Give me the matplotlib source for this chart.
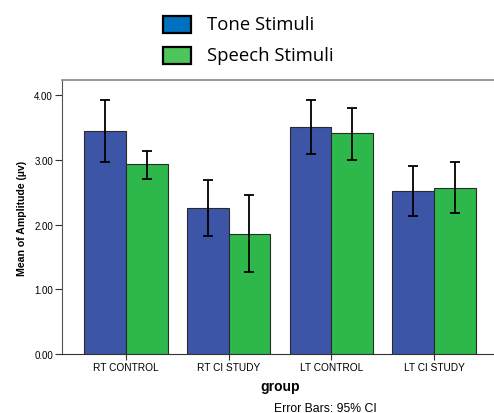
import matplotlib
matplotlib.use("Agg")
import matplotlib.pyplot as plt
import numpy as np
from matplotlib.patches import Rectangle

groups = ["RT CONTROL", "RT CI STUDY", "LT CONTROL", "LT CI STUDY"]
tone_mean = [3.45, 2.25, 3.51, 2.52]
tone_lo = [2.97, 1.82, 3.09, 2.13]
tone_hi = [3.93, 2.68, 3.93, 2.91]
speech_mean = [2.93, 1.86, 3.41, 2.57]
speech_lo = [2.71, 1.27, 3.00, 2.17]
speech_hi = [3.14, 2.46, 3.80, 2.96]
yticks = [0.0, 1.0, 2.0, 3.0, 4.0]
series_names = ["Tone Stimuli", "Speech Stimuli"]

W, H = 494, 414
fig = plt.figure(figsize=(W / 100, H / 100), dpi=100)

left_px, right_px, top_px, bot_px = 62, 498, 81, 355
ax = fig.add_axes([left_px / W, 1 - bot_px / H, (right_px - left_px) / W, (bot_px - top_px) / H])

x = np.arange(len(groups))
bw = 0.406
blue = "#3D55A7"
green = "#2EB84B"

tm = np.array(tone_mean); sm = np.array(speech_mean)
terr = [tm - np.array(tone_lo), np.array(tone_hi) - tm]
serr = [sm - np.array(speech_lo), np.array(speech_hi) - sm]

ax.bar(x - bw / 2, tm, bw, color=blue, edgecolor="#2a2a2a", linewidth=0.8, zorder=2)
ax.bar(x + bw / 2, sm, bw, color=green, edgecolor="#2a2a2a", linewidth=0.8, zorder=2)
ax.errorbar(x - bw / 2, tm, yerr=terr, fmt="none", ecolor="black", elinewidth=1.3, capsize=3.8, capthick=1.3, zorder=3)
ax.errorbar(x + bw / 2, sm, yerr=serr, fmt="none", ecolor="black", elinewidth=1.3, capsize=3.8, capthick=1.3, zorder=3)

ax.set_xlim(-0.62, 3.62)
ax.set_ylim(0, (bot_px - top_px) / ((355 - 96) / 4))
ax.set_yticks(yticks)
ax.set_yticklabels([f"{v:.2f}" for v in yticks], fontsize=7, family="Liberation Sans")
ax.set_xticks(x)
ax.set_xticklabels(groups, fontsize=7.3, family="Liberation Sans")
ax.tick_params(axis="y", direction="out", length=5, width=0.8, color="#333333", pad=1.5)
ax.tick_params(axis="x", direction="out", length=4, width=0.8, color="#333333", pad=1.5)
for s in ["top", "right"]:
    ax.spines[s].set_color("#888888")
    ax.spines[s].set_linewidth(1.2)
ax.spines["left"].set_color("#555555")
ax.spines["bottom"].set_color("#333333")

ax.set_ylabel("Mean of Amplitude (µv)", fontsize=7.6, fontweight="bold", family="Liberation Sans", labelpad=5)
ax.set_xlabel("group", fontsize=10, fontweight="bold", family="Liberation Sans", labelpad=5)

fig.text(325 / W, 1 - 409 / H, "Error Bars: 95% CI", fontsize=8.8, family="Liberation Sans", ha="center", va="center")

# legend
leg_cols = ["#0070C0", "#4CC65A"]
leg_y = [25, 56]
for name, c, yc in zip(series_names, leg_cols, leg_y):
    fig.patches.append(Rectangle((163 / W, 1 - (yc + 8.5) / H), 28 / W, 17 / H, transform=fig.transFigure,
                                 facecolor=c, edgecolor="black", linewidth=1.6))
    fig.text(207 / W, 1 - yc / H, name, fontsize=13.3, family="Open Sans", ha="left", va="center")

fig.savefig("out.png", dpi=100)
